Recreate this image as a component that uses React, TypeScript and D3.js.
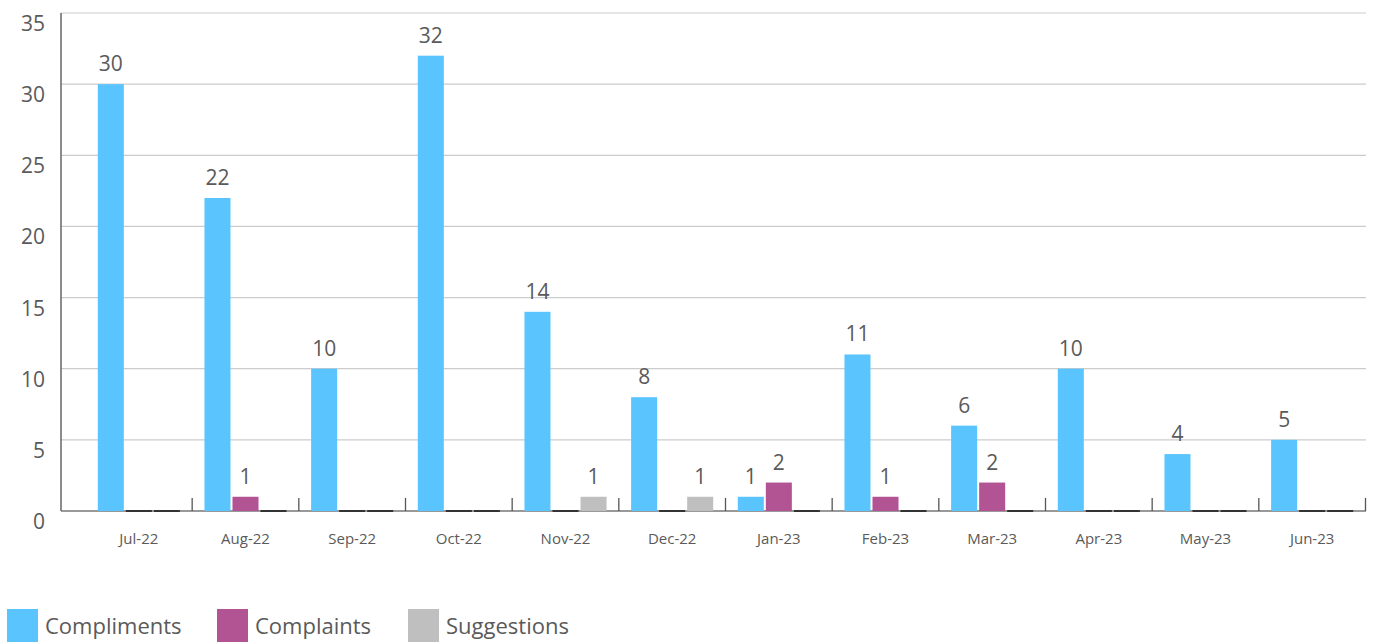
import React from "react";
import * as d3 from "d3";

const months = ["Jul-22","Aug-22","Sep-22","Oct-22","Nov-22","Dec-22","Jan-23","Feb-23","Mar-23","Apr-23","May-23","Jun-23"];
const compliments = [30,22,10,32,14,8,1,11,6,10,4,5];
const complaints = [0,1,0,0,0,0,2,1,2,0,0,0];
const suggestions = [0,0,0,0,1,1,0,0,0,0,0,0];
const seriesNames = ["Compliments","Complaints","Suggestions"];
const seriesColors = ["#5AC4FF","#B25394","#BFBFBF"];
const yTicks = [0,5,10,15,20,25,30,35];

const W = 1375, H = 642;
const axisLeft = 61, plotRight = 1366, plotTop = 13, baseY = 511;
const FONT = "'Open Sans', 'DejaVu Sans', sans-serif";
const TEXT = "#5a5a5a";

export default function App() {
  const series = [compliments, complaints, suggestions];
  const y = d3.scaleLinear().domain([0, 35]).range([baseY, plotTop]);
  const x0 = d3.scaleBand<string>().domain(months).range([85.5, 1365.5]).padding(0);
  const bw0 = x0.bandwidth();
  const x1 = d3.scaleBand<string>().domain(seriesNames).range([12.3, bw0 - 12.3]).paddingInner(0.0714).paddingOuter(0);

  return (
    <svg width={W} height={H} style={{ position: "absolute", left: 0, top: 0, background: "#fff" }}>
      {yTicks.map(t => (
        <g key={t}>
          {t > 0 && <line x1={axisLeft} x2={plotRight} y1={y(t)} y2={y(t)} stroke="#cccccc" strokeWidth={1.2} />}
          <text x={45} y={y(t) + 18} textAnchor="end" fontFamily={FONT} fontSize={21} fill={TEXT}>{t}</text>
        </g>
      ))}
      <line x1={axisLeft} x2={axisLeft} y1={plotTop} y2={baseY} stroke="#666" strokeWidth={1.5} />
      <line x1={axisLeft} x2={plotRight} y1={baseY} y2={baseY} stroke="#777" strokeWidth={1.5} />
      {months.map((m, i) => (
        <g key={m} transform={`translate(${x0(m)},0)`}>
          <line x1={bw0} x2={bw0} y1={baseY - 13} y2={baseY} stroke="#555" strokeWidth={1.3} />
          {series.map((s, si) => {
            const v = s[i];
            const bx = x1(seriesNames[si])!;
            const bw = x1.bandwidth();
            if (v === 0) {
              return <rect key={si} x={bx} y={baseY - 1} width={bw} height={2} fill="#333" />;
            }
            return (
              <g key={si}>
                <rect x={bx} y={y(v)} width={bw} height={baseY - y(v)} fill={seriesColors[si]} />
                <text x={bx + bw / 2} y={y(v) - 13} textAnchor="middle" fontFamily={FONT} fontSize={21} fill={TEXT}>{v}</text>
              </g>
            );
          })}
          <text x={bw0 / 2} y={544} textAnchor="middle" fontFamily={FONT} fontSize={15} fill={TEXT}>{m}</text>
        </g>
      ))}
      {seriesNames.map((n, i) => {
        const lx = [7, 217, 408][i];
        return (
          <g key={n}>
            <rect x={lx} y={609} width={31} height={33} fill={seriesColors[i]} />
            <text x={lx + 38} y={634} fontFamily={FONT} fontSize={22} fill={TEXT}>{n}</text>
          </g>
        );
      })}
    </svg>
  );
}
